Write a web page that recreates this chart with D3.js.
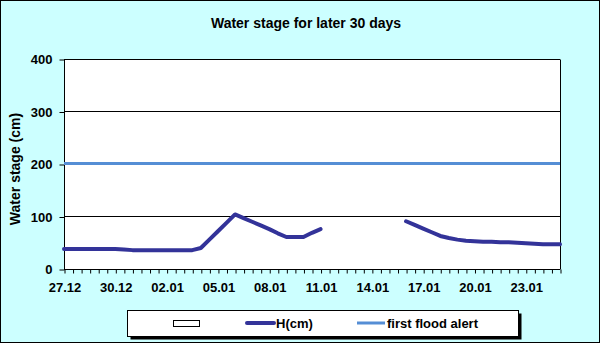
<!DOCTYPE html>
<html><head><meta charset="utf-8">
<script src="https://cdn.jsdelivr.net/npm/d3@7"></script>
<style>body{margin:0;padding:0;overflow:hidden;background:#fff}text{font-family:"Liberation Sans",Arial,sans-serif;font-weight:bold;fill:#000}</style>
</head><body><svg id="c" width="600" height="343"></svg>
<script>
const categories = ["27.12","27.12","28.12","28.12","29.12","29.12","30.12","30.12","31.12","31.12",
"01.01","01.01","02.01","02.01","03.01","03.01","04.01","04.01","05.01","05.01",
"06.01","06.01","07.01","07.01","08.01","08.01","09.01","09.01","10.01","10.01",
"11.01","11.01","12.01","12.01","13.01","13.01","14.01","14.01","15.01","15.01",
"16.01","16.01","17.01","17.01","18.01","18.01","19.01","19.01","20.01","20.01",
"21.01","21.01","22.01","22.01","23.01","23.01","24.01","24.01","25.01"];
const hValues = [37,37,37,37,37,37,37,36,35,35,
35,35,35,35,35,35,39,55,71,87,
103,96,89,82,75,67,60,60,60,68,
75,null,null,null,null,null,null,null,null,null,
90,83,76,69,62,58,55,53,52,51,
51,50,50,49,48,47,46,46,46];
const floodAlert = categories.map(() => 200);
const yTicks = [0,100,200,300,400];
const labelEvery = 6;
const title = "Water stage for later 30 days";
const yTitle = "Water stage (cm)";
const legendItems = ["", "H(cm)", "first flood alert"];

const svg = d3.select("#c");
svg.append("rect").attr("x",0.5).attr("y",0.5).attr("width",599).attr("height",342)
  .attr("fill","#CCFFFF").attr("stroke","#000");

const x = d3.scalePoint().domain(d3.range(categories.length)).range([64,560]);
const y = d3.scaleLinear().domain([0,400]).range([268.5,58.5]);
const py = v => Math.round(y(v)) + 0.5;

svg.append("rect").attr("x",64).attr("y",py(400)).attr("width",496).attr("height",py(0)-py(400)).attr("fill","#fff");
// gridlines
svg.append("g").selectAll("line").data(yTicks.slice(1)).join("line")
  .attr("x1",64).attr("x2",560).attr("y1",d=>py(d)).attr("y2",d=>py(d)).attr("stroke","#000");
svg.append("line").attr("x1",560.5).attr("x2",560.5).attr("y1",py(400)).attr("y2",py(0)).attr("stroke","#000");

// y axis
const yAxis = d3.axisLeft(d3.scaleLinear().domain([0,400]).range([py(0),py(400)])).tickValues(yTicks).tickSize(5).tickPadding(7);
const gy = svg.append("g").attr("transform","translate(64.5,0)").call(yAxis);
gy.select(".domain").attr("d",`M0,${py(400)}V${py(0)}`);
gy.selectAll("text").style("font-size","13px").attr("font-family",null);
gy.selectAll("line").attr("stroke","#000");

// x axis
const xAxis = d3.axisBottom(x).tickSize(4).tickSizeOuter(0)
  .tickFormat(i => i % labelEvery === 0 ? categories[i] : "").tickPadding(9);
const gx = svg.append("g").attr("transform",`translate(0.5,${py(0)})`).call(xAxis);
gx.select(".domain").attr("d","M63.5,0H559.5");
gx.selectAll("text").style("font-size","13px").attr("font-family",null);

// lines
const lineGen = d3.line().defined(d => d != null).x((d,i) => x(i)).y(d => y(d));
svg.append("path").datum(floodAlert).attr("d",lineGen).attr("fill","none").attr("stroke","#558ED5").attr("stroke-width",3);
svg.append("path").datum(hValues).attr("d",lineGen).attr("fill","none").attr("stroke","#333399").attr("stroke-width",4).attr("stroke-linejoin","round").attr("stroke-linecap","round");

// titles
svg.append("text").attr("x",306).attr("y",27.5).attr("text-anchor","middle").style("font-size","14px").text(title);
svg.append("text").attr("transform","translate(20,169) rotate(-90)").attr("text-anchor","middle").style("font-size","14px").text(yTitle);

// legend
const lg = svg.append("g");
lg.append("rect").attr("x",130.5).attr("y",313.5).attr("width",391).attr("height",26).attr("fill","#000");
lg.append("rect").attr("x",127.5).attr("y",310.5).attr("width",391).attr("height",26).attr("fill","#fff").attr("stroke","#000");
lg.append("rect").attr("x",173.5).attr("y",320.5).attr("width",26).attr("height",6).attr("fill","#fff").attr("stroke","#000");
lg.append("line").attr("x1",247).attr("x2",274).attr("y1",323).attr("y2",323).attr("stroke","#333399").attr("stroke-width",4).attr("stroke-linecap","round");
lg.append("text").attr("x",276).attr("y",328).style("font-size","13px").text(legendItems[1]);
lg.append("line").attr("x1",357).attr("x2",385).attr("y1",323).attr("y2",323).attr("stroke","#558ED5").attr("stroke-width",3);
lg.append("text").attr("x",387).attr("y",328).style("font-size","13px").text(legendItems[2]);
</script></body></html>
